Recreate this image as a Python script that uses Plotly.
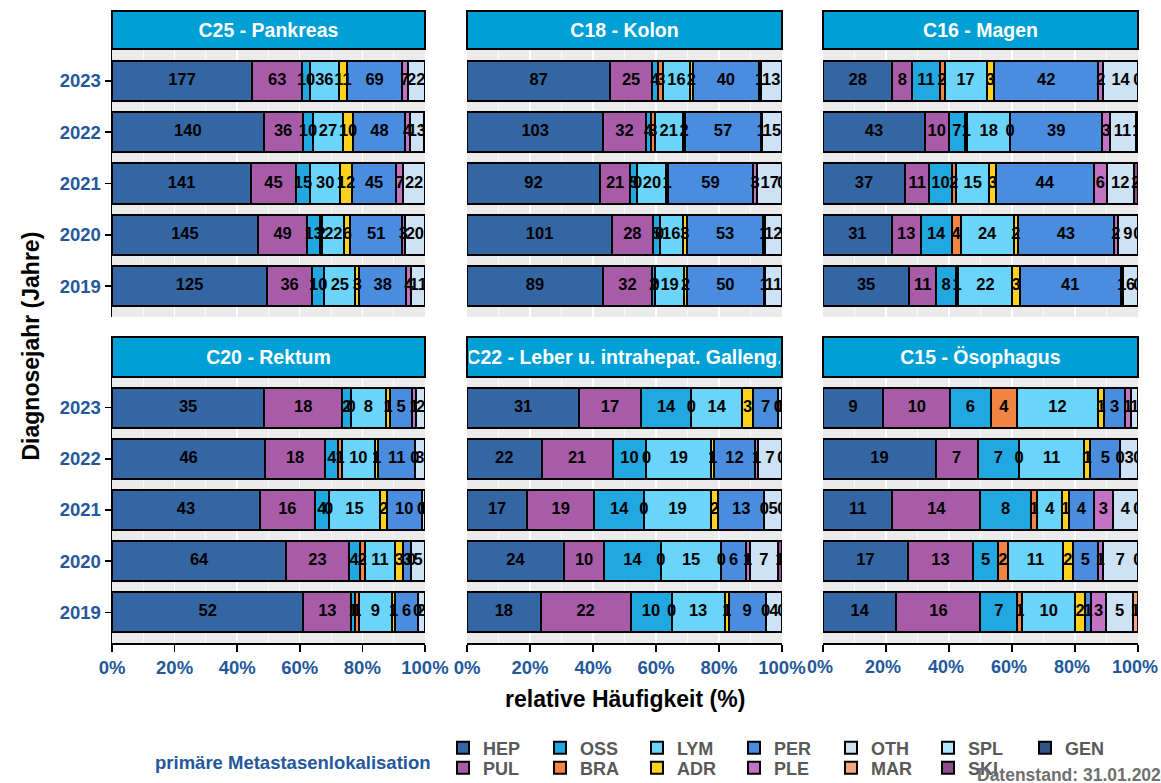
import plotly.graph_objects as go
from plotly.subplots import make_subplots

FONT = "Liberation Sans, Arial, sans-serif"
BLUE_TXT = "#24589b"

YEARS = ["2019", "2020", "2021", "2022", "2023"]
CATS = ["HEP", "PUL", "OSS", "BRA", "LYM", "ADR", "PER", "PLE", "OTH", "MAR", "SPL", "SKI", "GEN"]
COLORS = {
    "HEP": "#3566a4", "PUL": "#a85ca8", "OSS": "#22a8e0", "BRA": "#f28444",
    "LYM": "#6bd4fa", "ADR": "#fcd21f", "PER": "#4a8ddf", "PLE": "#c472c4",
    "OTH": "#cde2f4", "MAR": "#f6a882", "SPL": "#b2e8fb", "SKI": "#8e4e8c",
    "GEN": "#2f5587",
}
# legend layout: first row / second row
LEGEND_ROW1 = ["HEP", "OSS", "LYM", "PER", "OTH", "SPL", "GEN"]
LEGEND_ROW2 = ["PUL", "BRA", "ADR", "PLE", "MAR", "SKI"]
X_TICKS = [0, 20, 40, 60, 80, 100]
X_TICKTEXT = ["0%", "20%", "40%", "60%", "80%", "100%"]

# counts per category, years 2019..2023 (None = not present)
C25 = {
    "HEP": [125, 145, 141, 140, 177],
    "PUL": [36, 49, 45, 36, 63],
    "OSS": [10, 13, 15, 10, 10],
    "BRA": [None, 2, None, None, None],
    "LYM": [25, 22, 30, 27, 36],
    "ADR": [3, 6, 12, 10, 11],
    "PER": [38, 51, 45, 48, 69],
    "PLE": [4, 3, 7, 4, 7],
    "OTH": [11, 20, 22, 13, 22],
    "GEN": [None, None, None, 1, None],
}
C18 = {
    "HEP": [89, 101, 92, 103, 87],
    "PUL": [32, 28, 21, 32, 25],
    "OSS": [2, 5, 5, 4, 4],
    "BRA": [0, 0, 0, 3, 3],
    "LYM": [19, 16, 20, 21, 16],
    "ADR": [2, 3, 1, 2, 2],
    "PER": [50, 53, 59, 57, 40],
    "PLE": [1, 1, 3, 1, 1],
    "OTH": [11, 12, 17, 15, 13],
    "GEN": [None, None, 0, None, None],
}
C16 = {
    "HEP": [35, 31, 37, 43, 28],
    "PUL": [11, 13, 11, 10, 8],
    "OSS": [8, 14, 10, 7, 11],
    "BRA": [1, 4, 2, 1, 2],
    "LYM": [22, 24, 15, 18, 17],
    "ADR": [3, 2, 3, 0, 3],
    "PER": [41, 43, 44, 39, 42],
    "PLE": [1, 2, 6, 3, 2],
    "OTH": [6, 9, 12, 11, 14],
    "MAR": [0, 0, None, None, 0],
    "SKI": [None, None, 2, None, None],
    "GEN": [None, None, None, 1, None],
}
C20 = {
    "HEP": [52, 64, 43, 46, 35],
    "PUL": [13, 23, 16, 18, 18],
    "OSS": [1, 4, 4, 4, 2],
    "BRA": [1, 2, 0, 1, 0],
    "LYM": [9, 11, 15, 10, 8],
    "ADR": [1, 3, 2, 1, 1],
    "PER": [6, 3, 10, 11, 5],
    "PLE": [0, 0, 0, 0, 1],
    "OTH": [2, 5, 1, 3, 2],
}
C22 = {
    "HEP": [18, 24, 17, 22, 31],
    "PUL": [22, 10, 19, 21, 17],
    "OSS": [10, 14, 14, 10, 14],
    "BRA": [0, 0, 0, 0, 0],
    "LYM": [13, 15, 19, 19, 14],
    "ADR": [1, 0, 2, 1, 3],
    "PER": [9, 6, 13, 12, 7],
    "PLE": [0, 1, 0, 1, 0],
    "OTH": [4, 7, 5, 7, 1],
    "MAR": [0, None, 0, 0, None],
    "SKI": [None, 1, None, None, None],
}
C15 = {
    "HEP": [14, 17, 11, 19, 9],
    "PUL": [16, 13, 14, 7, 10],
    "OSS": [7, 5, 8, 7, 6],
    "BRA": [1, 2, 1, 0, 4],
    "LYM": [10, 11, 4, 11, 12],
    "ADR": [2, 2, 1, 1, 1],
    "PER": [1, 5, 4, 5, 3],
    "PLE": [3, 1, 3, 0, 1],
    "OTH": [5, 7, 4, 3, 1],
    "MAR": [1, 0, 0, 0, None],
}

PANELS = [
    ("C25 - Pankreas", C25, 1, 1),
    ("C18 - Kolon", C18, 1, 2),
    ("C16 - Magen", C16, 1, 3),
    ("C20 - Rektum", C20, 2, 1),
    ("C22 - Leber u. intrahepat. Galleng.", C22, 2, 2),
    ("C15 - Ösophagus", C15, 2, 3),
]


def legend_of(k):
    return "legend" if k in LEGEND_ROW1 else "legend2"


def rank_of(k):
    return (LEGEND_ROW1 + LEGEND_ROW2).index(k) + 1


fig = make_subplots(rows=2, cols=3)

legend_done = set()
for title, data, r, c in PANELS:
    totals = []
    for i in range(len(YEARS)):
        totals.append(sum(data[k][i] for k in CATS if k in data and data[k][i] is not None))
    cum = [0.0] * len(YEARS)
    tx, ty, tt = [], [], []
    for k in CATS:
        if k not in data:
            continue
        vals = data[k]
        pct = [None if v is None else v / totals[i] * 100 for i, v in enumerate(vals)]
        for i, v in enumerate(vals):
            if v is None:
                continue
            tx.append(cum[i] + pct[i] / 2)
            ty.append(YEARS[i])
            tt.append(str(v))
            cum[i] += pct[i]
        show = k not in legend_done
        legend_done.add(k)
        fig.add_trace(go.Bar(
            x=pct, y=YEARS, orientation="h", name=k, legendgroup=k,
            showlegend=show, legend=legend_of(k), legendrank=rank_of(k),
            marker=dict(color=COLORS[k], line=dict(color="black", width=2)),
            width=0.78, hoverinfo="skip",
        ), row=r, col=c)
    fig.add_trace(go.Scatter(
        x=tx, y=ty, text=tt, mode="text", showlegend=False, hoverinfo="skip",
        textfont=dict(family=FONT, size=16.5, color="black", weight="bold"),
        cliponaxis=True,
    ), row=r, col=c)

# legend-only entries for categories not present in any panel
for k in CATS:
    if k not in legend_done:
        fig.add_trace(go.Bar(x=[None], y=[None], orientation="h", name=k, legendgroup=k,
                             showlegend=True, legend=legend_of(k), legendrank=rank_of(k),
                             marker=dict(color=COLORS[k], line=dict(color="black", width=2))),
                      row=1, col=1)

# geometry (paper coords)
W, H = 1161, 783
L, R, T, B = 112, 1138, 50, 643
PW, PH = R - L, B - T
XD = [(0.0, (425 - L) / PW), ((467 - L) / PW, (782 - L) / PW), ((823 - L) / PW, 1.0)]
YD = [((B - 317) / PH, 1.0), (0.0, (B - 377) / PH)]

for idx, (title, data, r, c) in enumerate(PANELS):
    n = idx + 1
    xa = "xaxis" if n == 1 else f"xaxis{n}"
    ya = "yaxis" if n == 1 else f"yaxis{n}"
    fig.layout[xa].update(
        domain=list(XD[c - 1]), range=[0, 100.02], tickvals=X_TICKS,
        ticktext=X_TICKTEXT,
        showgrid=True, gridcolor="white", gridwidth=1.4, zeroline=False,
        minor=dict(dtick=10, tick0=0, showgrid=True, gridcolor="white", gridwidth=0.7),
        showticklabels=(r == 2), ticks="outside" if r == 2 else "",
        ticklen=7, tickwidth=1.5, tickcolor="black", ticklabeloverflow="allow",
        ticklabelshift=(-3 if c == 3 else 0),
        showline=(r == 2), linecolor="black", linewidth=1.5,
        tickfont=dict(family=FONT, size=18.5 if c < 3 else 18, color=BLUE_TXT, weight="bold"),
        fixedrange=True,
    )
    fig.layout[ya].update(
        domain=list(YD[r - 1]), type="category", categoryorder="array", categoryarray=YEARS,
        range=[-0.6, 4.6], showgrid=True, gridcolor="white", gridwidth=1.4, zeroline=False,
        showticklabels=(c == 1), ticks="outside" if c == 1 else "",
        ticklen=6, tickwidth=1.5, tickcolor="black",
        showline=(c == 1), linecolor="black", linewidth=1.5,
        tickfont=dict(family=FONT, size=18.5, color=BLUE_TXT, weight="bold"),
        fixedrange=True,
    )
    # strip
    x0, x1 = XD[c - 1]
    if r == 1:
        sy0, sy1 = (B - 49) / PH, (B - 11) / PH
    else:
        sy0, sy1 = (B - 377) / PH, (B - 337) / PH
    fig.add_shape(type="rect", xref="paper", yref="paper", x0=x0, x1=x1, y0=sy0, y1=sy1,
                  fillcolor="#00a0d6", line=dict(color="black", width=2), layer="above")
    fig.add_annotation(
        xref="paper", yref="paper", x=(x0 + x1) / 2, y=(sy0 + sy1) / 2,
        text=title, showarrow=False, xanchor="center", yanchor="middle",
        width=(x1 - x0) * PW - 4, align="center",
        font=dict(family=FONT, size=19.5, color="white", weight="bold"),
    )

# axis titles
fig.add_annotation(xref="paper", yref="paper", x=0.5, y=(B - 699) / PH, text="relative Häufigkeit (%)",
                   showarrow=False, xanchor="center", yanchor="middle",
                   font=dict(family=FONT, size=23, color="black", weight="bold"))
fig.add_annotation(xref="paper", yref="paper", x=(30 - L) / PW, y=0.5, text="Diagnosejahr (Jahre)",
                   showarrow=False, xanchor="center", yanchor="middle", textangle=-90,
                   font=dict(family=FONT, size=23, color="black", weight="bold"))
# legend title
fig.add_annotation(xref="paper", yref="paper", x=(433 - L) / PW, y=(B - 762) / PH,
                   text="primäre Metastasenlokalisation", showarrow=False,
                   xanchor="right", yanchor="middle",
                   font=dict(family=FONT, size=18.5, color=BLUE_TXT, weight="bold"))
# caption
fig.add_annotation(xref="paper", yref="paper", x=(975 - L) / PW, y=(B - 775) / PH,
                   text="Datenstand: 31.01.2024", showarrow=False,
                   xanchor="left", yanchor="middle",
                   font=dict(family=FONT, size=17.5, color="#707070", weight="bold"))

LEG_COMMON = dict(
    orientation="h", xref="container", yref="container",
    xanchor="left", yanchor="middle",
    entrywidth=52, entrywidthmode="pixels", traceorder="normal",
    font=dict(family=FONT, size=18, color="#595959", weight="bold"),
    bgcolor="rgba(0,0,0,0)", itemclick=False, itemdoubleclick=False,
)

fig.update_layout(
    width=W, height=H, barmode="stack", bargap=0,
    margin=dict(l=L, r=W - R, t=T, b=H - B, autoexpand=False),
    plot_bgcolor="#ebebeb", paper_bgcolor="white",
    font=dict(family=FONT, weight="bold"),
    legend=dict(x=443 / W, y=1 - 748 / H, **LEG_COMMON),
    legend2=dict(x=443 / W, y=1 - 768 / H, **LEG_COMMON),
    showlegend=True,
)

fig.write_html(
    "out.html",
    config={"displayModeBar": False, "staticPlot": True},
    post_script="document.body.style.margin='0';document.body.style.overflow='hidden';",
)
